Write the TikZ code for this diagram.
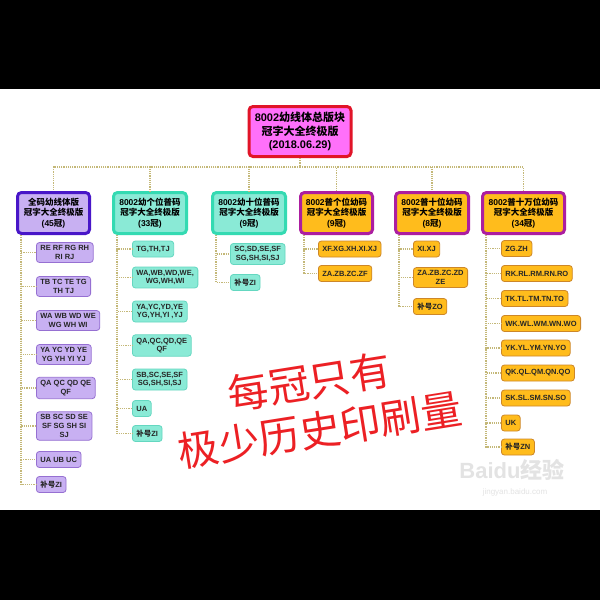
\documentclass[tikz,border=0pt]{standalone}
\usepackage{fontspec}
\usepackage{xcolor}
\setmainfont{Liberation Sans}
\newfontfamily\cjk{Noto Sans CJK SC}
\newcommand{\zh}[1]{{\cjk #1}}

\definecolor{rootfill}{RGB}{255,112,250}
\definecolor{rootline}{RGB}{225,20,40}
\definecolor{purfill}{RGB}{200,176,242}
\definecolor{purline}{RGB}{72,22,200}
\definecolor{purkid}{RGB}{150,112,210}
\definecolor{cyfill}{RGB}{138,234,214}
\definecolor{cyline}{RGB}{52,218,178}
\definecolor{cykid}{RGB}{100,215,192}
\definecolor{orfill}{RGB}{255,188,28}
\definecolor{orline}{RGB}{172,30,160}
\definecolor{orkid}{RGB}{205,135,40}
\definecolor{wire}{RGB}{196,184,120}
\definecolor{stamp}{RGB}{236,32,36}

\tikzset{
  rootbox/.style={draw=rootline, line width=3pt, fill=rootfill, rounded corners=4pt,
    minimum width=102, minimum height=50, align=center, inner sep=1pt,
    font=\fontsize{11}{13.5}\selectfont\bfseries},
  headbox/.style={line width=3pt, rounded corners=4pt, minimum height=41,
    align=center, inner sep=1pt, font=\fontsize{8.5}{10.5}\selectfont\bfseries},
  kidbox/.style={line width=0.8pt, rounded corners=3pt, anchor=west, minimum height=16,
    inner xsep=4pt, inner ysep=3pt, align=center, text=black!85,
    font=\fontsize{7.5}{8.6}\selectfont\bfseries},
  purhead/.style={headbox, draw=purline, fill=purfill},
  cyhead/.style={headbox, draw=cyline, fill=cyfill},
  orhead/.style={headbox, draw=orline, fill=orfill},
  purkid/.style={kidbox, draw=purkid, fill=purfill},
  cykid/.style={kidbox, draw=cykid, fill=cyfill},
  orkid/.style={kidbox, draw=orkid, fill=orfill},
  wire/.style={draw=wire, line width=1.2pt, densely dotted},
}

\begin{document}
\begin{tikzpicture}[x=1pt, y=-1pt]
  % Page
  \fill[black] (0, 0) rectangle (600, 600);
  \fill[white] (0, 89) rectangle (600, 510);
  \useasboundingbox (0, 0) rectangle (600, 600);

  % Root
  \node[rootbox] (root) at (300, 131.5)
    {8002\zh{幼线体总版块}\\\zh{冠字大全终极版}\\(2018.06.29)};

  % Heads
  \node[purhead, minimum width=72] (g1) at (53.5, 213)
    {\zh{全码幼线体版}\\\zh{冠字大全终极版}\\(45\zh{冠})};
  \node[cyhead, minimum width=73] (g2) at (150, 213)
    {8002\zh{幼个位普码}\\\zh{冠字大全终极版}\\(33\zh{冠})};
  \node[cyhead, minimum width=73] (g3) at (249, 213)
    {8002\zh{幼十位普码}\\\zh{冠字大全终极版}\\(9\zh{冠})};
  \node[orhead, minimum width=72] (g4) at (336.5, 213)
    {8002\zh{普个位幼码}\\\zh{冠字大全终极版}\\(9\zh{冠})};
  \node[orhead, minimum width=73] (g5) at (432, 213)
    {8002\zh{普十位幼码}\\\zh{冠字大全终极版}\\(8\zh{冠})};
  \node[orhead, minimum width=82] (g6) at (523.5, 213)
    {8002\zh{普十万位幼码}\\\zh{冠字大全终极版}\\(34\zh{冠})};

  % Bus
  \coordinate (bus) at (300, 167);
  \draw[wire] (root.south) -- (bus);
  \draw[wire] (bus) -| (g1.north);
  \draw[wire] (bus) -| (g2.north);
  \draw[wire] (bus) -| (g3.north);
  \draw[wire] (bus) -| (g4.north);
  \draw[wire] (bus) -| (g5.north);
  \draw[wire] (bus) -| (g6.north);

  % Column 1
  \node[purkid] (a1) at (36, 252.5) {RE RF RG RH\\RI RJ};
  \node[purkid] (a2) at (36, 286.5) {TB TC TE TG\\TH TJ};
  \node[purkid] (a3) at (36, 320.5) {WA WB WD WE\\WG WH WI};
  \node[purkid] (a4) at (36, 354.5) {YA YC YD YE\\YG YH YI YJ};
  \node[purkid] (a5) at (36, 388) {QA QC QD QE\\QF};
  \node[purkid] (a6) at (36, 426) {SB SC SD SE\\SF SG SH SI\\SJ};
  \node[purkid] (a7) at (36, 459.5) {UA UB UC};
  \node[purkid] (a8) at (36, 484.5) {\zh{补号}ZI};
  \draw[wire] ([xshift=5]g1.south west) |- (a1.west);
  \draw[wire] ([xshift=5]g1.south west) |- (a2.west);
  \draw[wire] ([xshift=5]g1.south west) |- (a3.west);
  \draw[wire] ([xshift=5]g1.south west) |- (a4.west);
  \draw[wire] ([xshift=5]g1.south west) |- (a5.west);
  \draw[wire] ([xshift=5]g1.south west) |- (a6.west);
  \draw[wire] ([xshift=5]g1.south west) |- (a7.west);
  \draw[wire] ([xshift=5]g1.south west) |- (a8.west);

  % Column 2
  \node[cykid] (b1) at (132, 249) {TG,TH,TJ};
  \node[cykid] (b2) at (132, 277.5) {WA,WB,WD,WE,\\WG,WH,WI};
  \node[cykid] (b3) at (132, 311.5) {YA,YC,YD,YE\\YG,YH,YI ,YJ};
  \node[cykid] (b4) at (132, 345.5) {QA,QC,QD,QE\\QF};
  \node[cykid] (b5) at (132, 379.5) {SB,SC,SE,SF\\SG,SH,SI,SJ};
  \node[cykid] (b6) at (132, 408.5) {UA};
  \node[cykid] (b7) at (132, 433.5) {\zh{补号}ZI};
  \draw[wire] ([xshift=5]g2.south west) |- (b1.west);
  \draw[wire] ([xshift=5]g2.south west) |- (b2.west);
  \draw[wire] ([xshift=5]g2.south west) |- (b3.west);
  \draw[wire] ([xshift=5]g2.south west) |- (b4.west);
  \draw[wire] ([xshift=5]g2.south west) |- (b5.west);
  \draw[wire] ([xshift=5]g2.south west) |- (b6.west);
  \draw[wire] ([xshift=5]g2.south west) |- (b7.west);

  % Column 3
  \node[cykid] (c1) at (230, 254) {SC,SD,SE,SF\\SG,SH,SI,SJ};
  \node[cykid] (c2) at (230, 282.5) {\zh{补号}ZI};
  \draw[wire] ([xshift=5]g3.south west) |- (c1.west);
  \draw[wire] ([xshift=5]g3.south west) |- (c2.west);

  % Column 4
  \node[orkid] (d1) at (318, 249) {XF.XG.XH.XI.XJ};
  \node[orkid] (d2) at (318, 273.5) {ZA.ZB.ZC.ZF};
  \draw[wire] ([xshift=5]g4.south west) |- (d1.west);
  \draw[wire] ([xshift=5]g4.south west) |- (d2.west);

  % Column 5
  \node[orkid] (e1) at (413, 249) {XI.XJ};
  \node[orkid] (e2) at (413, 277.5) {ZA.ZB.ZC.ZD\\ZE};
  \node[orkid] (e3) at (413, 306.5) {\zh{补号}ZO};
  \draw[wire] ([xshift=5]g5.south west) |- (e1.west);
  \draw[wire] ([xshift=5]g5.south west) |- (e2.west);
  \draw[wire] ([xshift=5]g5.south west) |- (e3.west);

  % Column 6
  \node[orkid] (f1) at (501, 248.5) {ZG.ZH};
  \node[orkid] (f2) at (501, 273.5) {RK.RL.RM.RN.RO};
  \node[orkid] (f3) at (501, 298.5) {TK.TL.TM.TN.TO};
  \node[orkid] (f4) at (501, 323.5) {WK.WL.WM.WN.WO};
  \node[orkid] (f5) at (501, 348) {YK.YL.YM.YN.YO};
  \node[orkid] (f6) at (501, 373) {QK.QL.QM.QN.QO};
  \node[orkid] (f7) at (501, 398) {SK.SL.SM.SN.SO};
  \node[orkid] (f8) at (501, 423) {UK};
  \node[orkid] (f9) at (501, 447) {\zh{补号}ZN};
  \draw[wire] ([xshift=5]g6.south west) |- (f1.west);
  \draw[wire] ([xshift=5]g6.south west) |- (f2.west);
  \draw[wire] ([xshift=5]g6.south west) |- (f3.west);
  \draw[wire] ([xshift=5]g6.south west) |- (f4.west);
  \draw[wire] ([xshift=5]g6.south west) |- (f5.west);
  \draw[wire] ([xshift=5]g6.south west) |- (f6.west);
  \draw[wire] ([xshift=5]g6.south west) |- (f7.west);
  \draw[wire] ([xshift=5]g6.south west) |- (f8.west);
  \draw[wire] ([xshift=5]g6.south west) |- (f9.west);

  % Red note
  \node[text=stamp, rotate=9, align=center, inner sep=0pt,
    font=\cjk\fontsize{41}{49}\selectfont] (note) at (313, 406)
    {每冠只有\\\hspace*{6pt}极少历史印刷量};

  % Watermark
  \node[text=gray!22, font=\fontsize{22}{22}\selectfont\bfseries] (mark1) at (512, 470) {Baidu\zh{经验}};
  \node[text=gray!22, font=\fontsize{8}{8}\selectfont] (mark2) at (515, 492) {jingyan.baidu.com};
\end{tikzpicture}
\end{document}
